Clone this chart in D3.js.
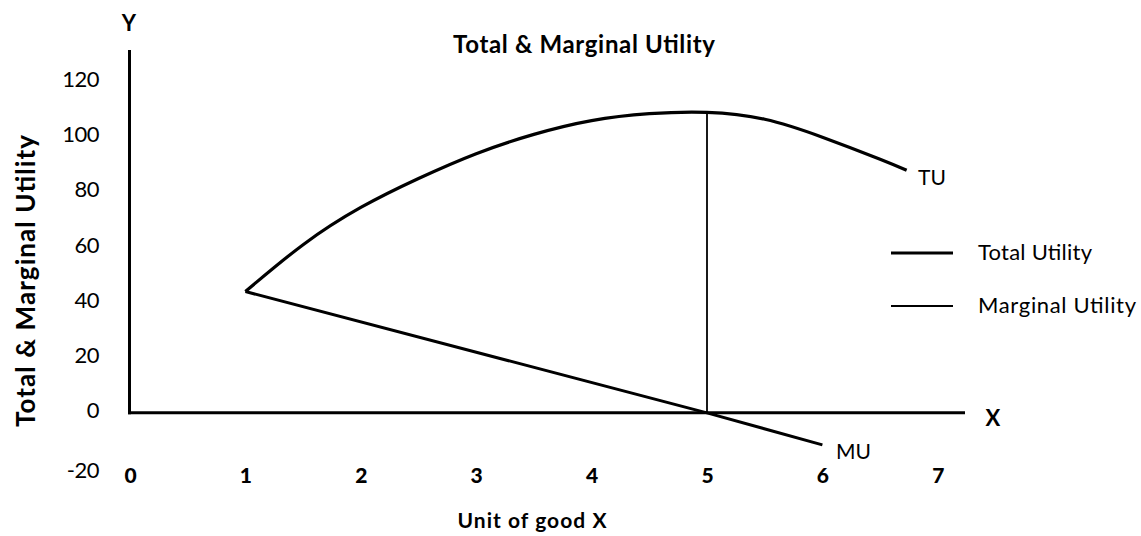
<!DOCTYPE html>
<html><head><meta charset="utf-8">
<script src="https://cdn.jsdelivr.net/npm/d3@7"></script>
<style>
body{margin:0;background:#fff;}
text{font-family:"Lato","Open Sans",sans-serif;fill:#000;}
</style></head>
<body><svg id="c" width="1141" height="536"></svg>
<script>
const xTicks = [0,1,2,3,4,5,6,7];
const yTicks = [-20,0,20,40,60,80,100,120];
const tuX = [1, 1.5, 2, 2.5, 3, 3.5, 4, 4.5, 5, 5.5, 6, 6.5, 6.73];
const tuY = [44, 61, 74.5, 85, 94, 101, 106, 108.5, 109, 106.5, 100, 92, 88];
const muX = [1, 5, 6];
const muY = [44, 0, -11.6];
const peakX = 5, peakY = 109;
const seriesNames = ["Total Utility", "Marginal Utility"];

const svg = d3.select("#c");
const x = d3.scaleLinear().domain([0,5]).range([130,707]);
const y = d3.scaleLinear().domain([-20,120]).range([468,82]);

// axes lines
svg.append("line").attr("x1",129.5).attr("x2",129.5).attr("y1",50).attr("y2",y(0)+1.5)
  .attr("stroke","#000").attr("stroke-width",3);
svg.append("line").attr("x1",128).attr("x2",965).attr("y1",y(0)).attr("y2",y(0))
  .attr("stroke","#000").attr("stroke-width",3);

// y tick labels
const ya = d3.axisLeft(y).tickValues(yTicks).tickSize(0).tickPadding(0).tickFormat(d=>String(d));
const gy = svg.append("g").attr("transform","translate(99,0)").call(ya);
gy.select(".domain").remove();
gy.selectAll("text").style("font-family","Lato").style("font-size","22px").attr("dy","0.35em")
  .attr("transform",d=>d===-20?"translate(0,2)":"translate(0,-3)")
  .style("letter-spacing","-0.5px");

// x tick labels
const xa = d3.axisBottom(x).tickValues(xTicks).tickSize(0).tickPadding(0).tickFormat(d=>String(d));
const gx = svg.append("g").attr("transform","translate(0,475)").call(xa);
gx.select(".domain").remove();
gx.selectAll("text").style("font-family","Lato").style("font-size","21px").style("font-weight","900")
  .attr("dy","0.36em").attr("y",0);

// TU curve
const tu = tuX.map((v,i)=>[v,tuY[i]]);
svg.append("path").datum(tu)
  .attr("d", d3.line().x(d=>x(d[0])).y(d=>y(d[1])).curve(d3.curveNatural))
  .attr("fill","none").attr("stroke","#000").attr("stroke-width",3.2);

// MU line
const mu = muX.map((v,i)=>[v,muY[i]]);
svg.append("path").datum(mu)
  .attr("d", d3.line().x(d=>x(d[0])).y(d=>y(d[1])))
  .attr("fill","none").attr("stroke","#000").attr("stroke-width",3).attr("stroke-linejoin","miter");

// vertical line at peak
svg.append("line").attr("x1",x(peakX)).attr("x2",x(peakX)).attr("y1",y(0)).attr("y2",y(peakY))
  .attr("stroke","#000").attr("stroke-width",1.8);

function txt(xp, yp, s, size, weight, len, anchor){
  const t = svg.append("text").attr("x",xp).attr("y",yp).attr("dy","0.35em")
    .attr("text-anchor",anchor||"start")
    .style("font-size",size+"px").style("font-weight",weight||"normal").text(s);
  if(len) t.attr("textLength",len).attr("lengthAdjust","spacing");
  return t;
}

// curve labels
txt(918, 178, "TU", 21, "normal", null);
txt(836, 452, "MU", 21, "normal", null);

// legend
seriesNames.forEach((n,i)=>{
  const ly = 253 + i*53;
  svg.append("line").attr("x1",891).attr("x2",953).attr("y1",ly).attr("y2",ly)
    .attr("stroke","#000").attr("stroke-width", i===0?3.2:2);
  txt(978, ly-1, n, 22, "normal", i===0?114:158);
});

// titles
txt(584, 45, "Total & Marginal Utility", 24, "bold", 262, "middle");
svg.append("text").attr("transform","translate(26,281) rotate(-90)").attr("text-anchor","middle")
  .attr("dy","0.35em").style("font-size","26px").style("font-weight","bold")
  .attr("textLength",292).attr("lengthAdjust","spacing").text("Total & Marginal Utility");
txt(532, 521, "Unit of good X", 21, "bold", 149, "middle");
txt(129, 23, "Y", 22, "bold", null, "middle");
txt(993, 418, "X", 22, "bold", null, "middle");
</script></body></html>
